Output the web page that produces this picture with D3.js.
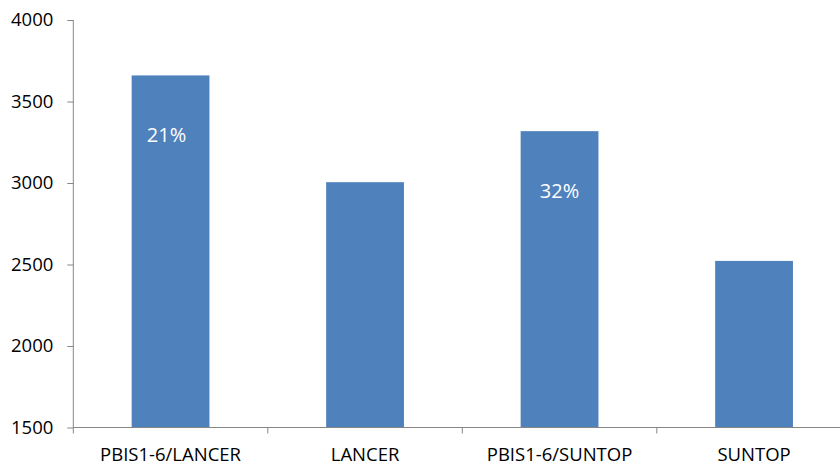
<!DOCTYPE html>
<html>
<head>
<meta charset="utf-8">
<script src="https://cdn.jsdelivr.net/npm/d3@7"></script>
<style>
  body { margin: 0; background: #fff; }
  svg text { font-family: "Open Sans", "Noto Sans", sans-serif; fill: #000; }
</style>
</head>
<body>
<svg id="chart" width="840" height="465"></svg>
<script>
const categories = ['PBIS1-6/LANCER', 'LANCER', 'PBIS1-6/SUNTOP', 'SUNTOP']
const yields     = [3660, 3005, 3318, 2522]
const gainLabels = ['21%', '', '32%', '']
const yTicks     = [1500, 2000, 2500, 3000, 3500, 4000]

const svg = d3.select('#chart')
const margin = {top: 20, left: 73.3}
const innerW = 778
const innerH = 407.5

const g = svg.append('g')
  .attr('transform', `translate(${margin.left},${margin.top})`)

const x = d3.scaleBand().domain(categories).range([0, innerW])
  .paddingInner(0.6).paddingOuter(0.3)
const y = d3.scaleLinear().domain([1500, 4000]).range([innerH, 0])

// bars
g.selectAll('rect.bar').data(categories).enter().append('rect')
  .attr('class', 'bar')
  .attr('x', d => x(d))
  .attr('y', (d, i) => y(yields[i]))
  .attr('width', x.bandwidth())
  .attr('height', (d, i) => innerH - y(yields[i]))
  .attr('fill', '#4f81bd')

// percentage labels inside bars
g.selectAll('text.pct').data(categories).enter().append('text')
  .attr('class', 'pct')
  .attr('x', d => x(d) + x.bandwidth() / 2 - (d === categories[0] ? 4 : 0))
  .attr('y', (d, i) => y(yields[i]) + 67)
  .attr('text-anchor', 'middle')
  .style('font-size', '20px')
  .style('fill', '#fff')
  .text((d, i) => gainLabels[i])

// y axis
const yAxis = g.append('g')
  .call(d3.axisLeft(y).tickValues(yTicks).tickSize(6).tickPadding(14).tickFormat(d3.format('d')))
yAxis.select('.domain').attr('stroke', '#868686').attr('d', `M0,0V${innerH + 6}`)
yAxis.selectAll('.tick line').attr('stroke', '#868686')
yAxis.selectAll('.tick text').style('font-size', '18.5px')

// x axis with ticks between categories
const xAxis = g.append('g').attr('transform', `translate(0,${innerH})`)
xAxis.append('line')
  .attr('x1', 0).attr('x2', innerW)
  .attr('stroke', '#868686')
xAxis.selectAll('line.sep').data(categories.slice(1)).enter().append('line')
  .attr('class', 'sep')
  .attr('x1', d => x(d) - x.step() * x.paddingInner() / 2)
  .attr('x2', d => x(d) - x.step() * x.paddingInner() / 2)
  .attr('y1', 0).attr('y2', 6)
  .attr('stroke', '#868686')
xAxis.selectAll('text').data(categories).enter().append('text')
  .attr('x', d => x(d) + x.bandwidth() / 2)
  .attr('y', 33)
  .attr('text-anchor', 'middle')
  .style('font-size', '18.5px')
  .text(d => d)
</script>
</body>
</html>
